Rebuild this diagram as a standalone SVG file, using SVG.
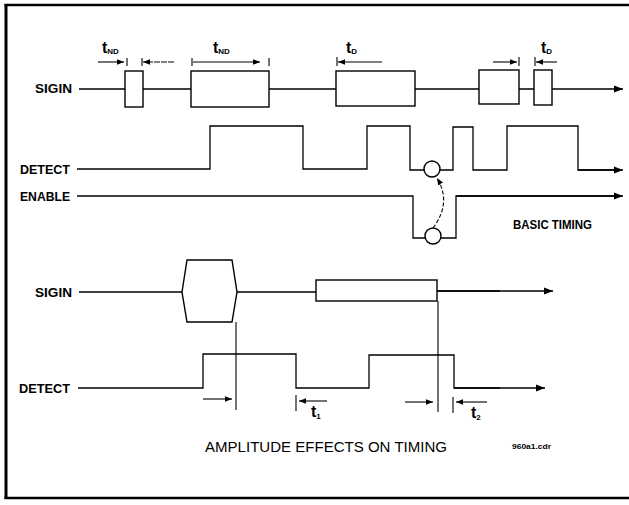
<svg xmlns="http://www.w3.org/2000/svg" width="629" height="505" viewBox="0 0 629 505">
<style>
.w{fill:none;stroke:#000;stroke-width:1.3}
.b{fill:#fff;stroke:#000;stroke-width:1.4}
.a{fill:none;stroke:#000;stroke-width:1.1;marker-end:url(#ah)}
.tk{stroke:#000;stroke-width:1.1}
.lbl{font-family:"Liberation Sans",Arial,sans-serif;font-weight:bold;font-size:12px;fill:#000}
.t{font-family:"Liberation Sans",Arial,sans-serif;font-weight:bold;font-size:16px;fill:#000}
.s{font-family:"Liberation Sans",Arial,sans-serif;font-weight:bold;font-size:8px;fill:#000}
.ttl{font-family:"Liberation Sans",Arial,sans-serif;font-size:14px;fill:#000}
</style>
<defs>
<marker id="ah" viewBox="0 0 10 10" refX="10" refY="5" markerWidth="7" markerHeight="7" markerUnits="userSpaceOnUse" orient="auto"><path d="M0,1 L10,5 L0,9 Z" fill="#000"/></marker>
<marker id="ahL" viewBox="0 0 10 10" refX="10" refY="5" markerWidth="9" markerHeight="9" markerUnits="userSpaceOnUse" orient="auto"><path d="M0,1 L10,5 L0,9 Z" fill="#000"/></marker>
</defs>
<rect width="629" height="505" fill="#fff"/>
<g id="frame" fill="none" stroke="#000">
<line x1="6" y1="4" x2="6" y2="499" stroke-width="3"/>
<line x1="4.5" y1="5" x2="629" y2="5" stroke-width="2.5"/>
<line x1="4.5" y1="498" x2="629" y2="498" stroke-width="2.5"/>
</g>
<g id="labels">
<text class="lbl" x="35" y="93" textLength="37" lengthAdjust="spacingAndGlyphs">SIGIN</text>
<text class="lbl" x="20" y="174" textLength="50" lengthAdjust="spacingAndGlyphs">DETECT</text>
<text class="lbl" x="20" y="201" textLength="50" lengthAdjust="spacingAndGlyphs">ENABLE</text>
<text class="lbl" x="513" y="229" font-size="11" textLength="79" lengthAdjust="spacingAndGlyphs">BASIC TIMING</text>
<text class="lbl" x="35" y="297" textLength="37" lengthAdjust="spacingAndGlyphs">SIGIN</text>
<text class="lbl" x="19" y="393" textLength="51" lengthAdjust="spacingAndGlyphs">DETECT</text>
<text class="ttl" x="205" y="452" textLength="242" lengthAdjust="spacingAndGlyphs">AMPLITUDE EFFECTS ON TIMING</text>
<text class="s" x="512" y="449" font-size="8" textLength="39" lengthAdjust="spacingAndGlyphs">960a1.cdr</text>
</g>
<g id="time-labels">
<text class="t" x="102" y="53">t<tspan class="s" dy="1">ND</tspan></text>
<text class="t" x="213" y="53">t<tspan class="s" dy="1">ND</tspan></text>
<text class="t" x="346" y="53">t<tspan class="s" dy="1">D</tspan></text>
<text class="t" x="541" y="53">t<tspan class="s" dy="1">D</tspan></text>
<text class="t" x="311" y="417">t<tspan class="s" dy="2">1</tspan></text>
<text class="t" x="471" y="418">t<tspan class="s" dy="2">2</tspan></text>
</g>
<g id="sigin-basic">
<path class="w" d="M79,89 H125 M143,89 H191 M269,89 H336 M415,89 H479 M519,89 H534" />
<line class="w" x1="552" y1="89" x2="623" y2="89" marker-end="url(#ahL)"/>
<rect class="b" x="125" y="71" width="18" height="36"/>
<rect class="b" x="191" y="71" width="78" height="36"/>
<rect class="b" x="336" y="71" width="79" height="35"/>
<rect class="b" x="479" y="70" width="40" height="34"/>
<rect class="b" x="534" y="70" width="18" height="35"/>
</g>
<g id="detect-basic">
<path class="w" d="M77,169 H210 V126 H303 V169 H367 V126 H410 V170 H453 V127 H473 V170 H507 V126 H578 V170 H615" />
<line class="w" x1="578" y1="170" x2="623" y2="170" marker-end="url(#ahL)"/>
<circle class="b" cx="432" cy="169" r="8"/>
</g>
<g id="enable-basic">
<path class="w" d="M77,196 H413 V238 H456 V196 H615"/>
<line class="w" x1="456" y1="196" x2="623" y2="196" marker-end="url(#ahL)"/>
<circle class="b" cx="433" cy="236" r="8"/>
</g>
<g id="sigin-amp">
<path class="w" d="M79,292 H182"/>
<path class="b" d="M182,292 L187,260 H232 L237,292 L232,322 H187 Z"/>
<path class="w" d="M237,292 H316 M437,291 H500"/>
<line class="w" x1="437" y1="291" x2="553" y2="291" marker-end="url(#ahL)"/>
<rect class="b" x="316" y="280" width="121" height="21"/>
</g>
<g id="detect-amp">
<path class="w" d="M78,388 H203 V354 H296 V388 H369 V355 H454 V388 H500"/>
<line class="w" x1="454" y1="388" x2="545" y2="388" marker-end="url(#ahL)"/>
</g>
<g id="connectors">
<line class="tk" x1="236" y1="322" x2="236" y2="410"/>
<line class="tk" x1="438" y1="301" x2="438" y2="412"/>
<path d="M433,228 Q452,203 437,178" fill="none" stroke="#000" stroke-width="1.1" stroke-dasharray="4,2" marker-end="url(#ah)"/>
<line class="a" x1="98" y1="62" x2="124" y2="62"/>
<line class="tk" x1="127" y1="58" x2="127" y2="66"/>
<line class="tk" x1="142" y1="58" x2="142" y2="66"/>
<line class="a" x1="174" y1="62" x2="143" y2="62" stroke-dasharray="6,1"/>
<line class="tk" x1="192" y1="58" x2="192" y2="66"/>
<line class="a" x1="193" y1="62" x2="260" y2="62"/>
<line class="tk" x1="269" y1="58" x2="269" y2="66"/>
<line class="tk" x1="337" y1="57" x2="337" y2="66"/>
<line class="a" x1="382" y1="62" x2="338" y2="62"/>
<line class="a" x1="493" y1="62" x2="517" y2="62"/>
<line class="tk" x1="519" y1="57" x2="519" y2="66"/>
<line class="tk" x1="535" y1="57" x2="535" y2="66"/>
<line class="a" x1="557" y1="62" x2="536" y2="62"/>
<line class="a" x1="203" y1="399" x2="232" y2="399"/>
<line class="tk" x1="296" y1="395" x2="296" y2="411"/>
<line class="a" x1="327" y1="401" x2="299" y2="401"/>
<line class="a" x1="405" y1="402" x2="433" y2="402"/>
<line class="tk" x1="453" y1="397" x2="453" y2="413"/>
<line class="a" x1="487" y1="402" x2="456" y2="402"/>
</g>
</svg>
